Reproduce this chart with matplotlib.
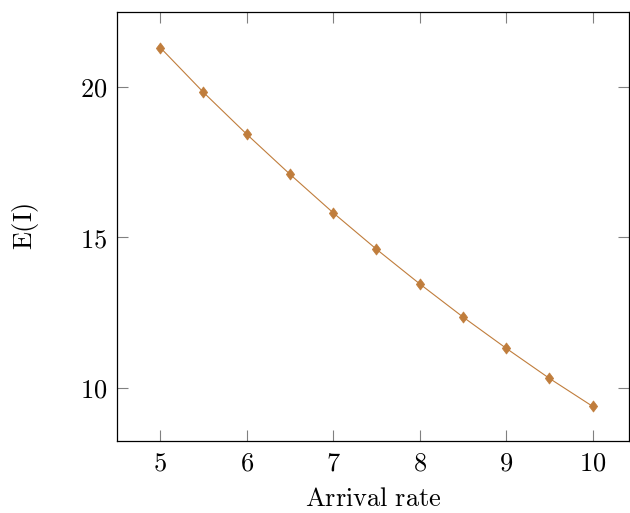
import matplotlib
matplotlib.use("Agg")
import matplotlib.pyplot as plt
from matplotlib.ticker import FuncFormatter, FixedLocator
from matplotlib.path import Path

plt.rcParams['mathtext.fontset'] = 'cm'

arrival_rate = [5, 5.5, 6, 6.5, 7, 7.5, 8, 8.5, 9, 9.5, 10]
expected_I = [21.30, 19.81, 18.42, 17.09, 15.81, 14.60, 13.45, 12.35, 11.31, 10.31, 9.38]
x_ticks = [5, 6, 7, 8, 9, 10]
y_ticks = [10, 15, 20]

fig = plt.figure(figsize=(6.3, 5.13), dpi=100)
ax = fig.add_axes([117/630, 1-441/513, (629-117)/630, (441-12)/513])

diamond = Path([(0, 1), (0.75, 0), (0, -1), (-0.75, 0), (0, 1)],
               [Path.MOVETO, Path.LINETO, Path.LINETO, Path.LINETO, Path.CLOSEPOLY])
color = '#C07D3C'
ax.plot(arrival_rate, expected_I, color=color, lw=0.8, marker=diamond,
        markersize=8, markerfacecolor=color, markeredgecolor=color, markeredgewidth=0.5)

ax.set_xlim(4.5, 10.42)
ax.set_ylim(8.23, 22.48)
ax.xaxis.set_major_locator(FixedLocator(x_ticks))
ax.yaxis.set_major_locator(FixedLocator(y_ticks))
fmt = FuncFormatter(lambda v, p: r'$%d$' % round(v))
ax.xaxis.set_major_formatter(fmt)
ax.yaxis.set_major_formatter(fmt)
ax.tick_params(direction='in', length=8, width=0.8, color='#808080',
               top=True, right=True, labelsize=19, pad=7, labelcolor='black')
for s in ax.spines.values():
    s.set_linewidth(0.9)
    s.set_color('black')

ax.set_xlabel(r'$\mathrm{Arrival\ rate}$', fontsize=19, labelpad=7)
ax.set_ylabel(r'$\mathrm{E(I)}$', fontsize=19, labelpad=28)

fig.savefig('out.png', dpi=100)
